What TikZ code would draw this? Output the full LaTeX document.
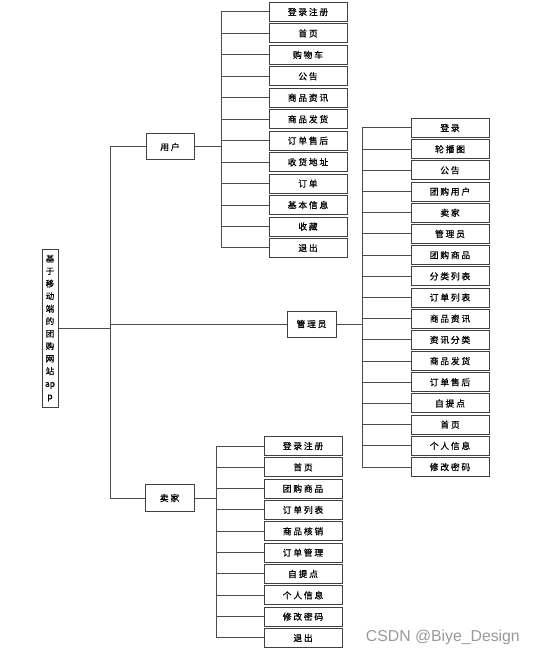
\documentclass[tikz,border=0pt]{standalone}
\usepackage{fontspec}
\newfontfamily\cjk{Noto Sans CJK SC}[FakeBold=0.6,LetterSpace=20]
\newfontfamily\cjkr{Noto Sans CJK SC}[FakeBold=0.6]
\newfontfamily\wm{Liberation Sans}
\tikzset{
  box/.style={draw=black!75, line width=1pt, fill=white, minimum width=78pt, minimum height=19pt, inner sep=0pt, font=\cjk\fontsize{8.8}{10}\selectfont},
  grp/.style={draw=black!75, line width=1pt, fill=white, minimum width=49pt, minimum height=26pt, inner sep=0pt, font=\cjk\fontsize{8.8}{10}\selectfont},
  ln/.style={draw=black!70, line width=1pt}
}
\begin{document}
\begin{tikzpicture}[x=1pt,y=-1pt]
\useasboundingbox (0,0) rectangle (533,655);
% root
\node[draw=black!75, line width=1pt, minimum width=16pt, minimum height=158pt, inner sep=0pt, align=center, font=\cjkr\fontsize{8.5}{12.5}\selectfont] (root) at (50,328) {基\\于\\移\\动\\端\\的\\团\\购\\网\\站\\ap\\p};
% groups
\node[grp, minimum width=48pt] (user) at (170,147) {用户};
\node[grp] (admin) at (311.5,324) {管理员};
\node[grp, minimum height=27pt] (seller) at (169.5,498) {卖家};
% trunk
\coordinate (tk) at (110,328);
\coordinate (tkU) at (110,147);
\coordinate (tkS) at (110,498);
\draw[ln] (root.east) -- (tk);
\draw[ln] (tkU) -- (tkS);
\draw[ln] (tkU) -- (user.west);
\draw[ln] (110,324) -- (admin.west);
\draw[ln] (tkS) -- (seller.west);
% user branch
\coordinate (uv) at (221,147);
\draw[ln] (user.east) -- (uv);
\foreach \t [count=\i] in {登录注册,首页,购物车,公告,商品资讯,商品发货,订单售后,收货地址,订单,基本信息,收藏,退出}{
  \node[box] (u\i) at (308, {12+(\i-1)*21.45}) {\t};
  \draw[ln] (u\i.west) -- (u\i.west -| uv);
}
\draw[ln] (u1.west -| uv) -- (u12.west -| uv);
% admin branch
\coordinate (av) at (362,324);
\draw[ln] (admin.east) -- (av);
\foreach \t [count=\i] in {登录,轮播图,公告,团购用户,卖家,管理员,团购商品,分类列表,订单列表,商品资讯,资讯分类,商品发货,订单售后,自提点,首页,个人信息,修改密码}{
  \node[box] (a\i) at (450, {128+(\i-1)*21.19}) {\t};
  \draw[ln] (a\i.west) -- (a\i.west -| av);
}
\draw[ln] (a1.west -| av) -- (a17.west -| av);
% seller branch
\coordinate (sv) at (216,498);
\draw[ln] (seller.east) -- (sv);
\foreach \t [count=\i] in {登录注册,首页,团购商品,订单列表,商品核销,订单管理,自提点,个人信息,修改密码,退出}{
  \node[box] (s\i) at (303, {446+(\i-1)*21.33}) {\t};
  \draw[ln] (s\i.west) -- (s\i.west -| sv);
}
\draw[ln] (s1.west -| sv) -- (s10.west -| sv);
% watermark
\node[anchor=east, inner sep=0pt, text=black!40, font=\wm\fontsize{15.8}{17}\selectfont] (wmk) at (520,637) {CSDN @Biye\_Design};
\end{tikzpicture}
\end{document}
